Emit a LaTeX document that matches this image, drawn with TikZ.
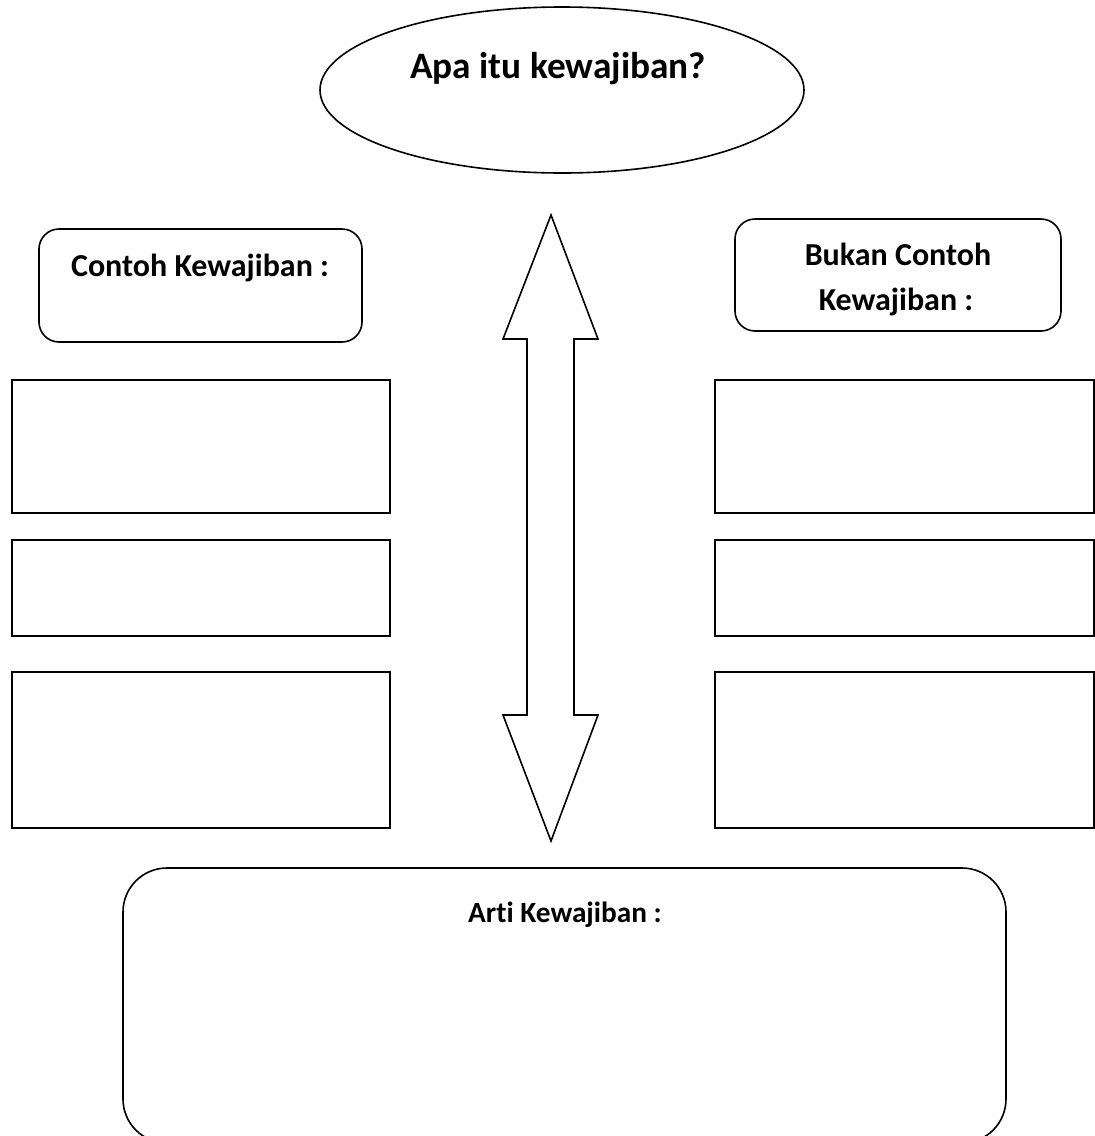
\documentclass[tikz,border=0pt]{standalone}
\usepackage{fontspec}
\setmainfont{Carlito}[Ligatures={NoCommon}]
\usetikzlibrary{shapes.geometric}
\begin{document}
\begin{tikzpicture}[x=1pt,y=-1pt,
  ln/.style={line width=1.6pt},
  plainbox/.style={ln,draw,rectangle,inner sep=0pt,minimum width=378pt},
  roundbox/.style={ln,draw,rectangle,rounded corners=20pt,inner sep=0pt},
  lbl/.style={inner sep=0pt,font=\bfseries\fontsize{32}{45}\selectfont,align=center}]
\useasboundingbox (0,0) rectangle (1095,1136);
% question ellipse
\node[ln,draw,ellipse,inner sep=0pt,minimum width=484pt,minimum height=166pt] (q) at (562,90) {};
\node[inner sep=0pt,anchor=base,font=\bfseries\fontsize{37.3}{45}\selectfont] (qt) at (558,78) {Apa itu kewajiban?};
% left side
\node[roundbox,minimum width=323pt,minimum height=113pt] (lh) at (200.5,285.5) {};
\node[lbl,anchor=base] (lht) at (200,276) {Contoh Kewajiban :};
\node[plainbox,minimum height=133pt] (l1) at (201,446.5) {};
\node[plainbox,minimum height=96pt] (l2) at (201,588) {};
\node[plainbox,minimum height=156pt] (l3) at (201,750) {};
% right side
\node[roundbox,minimum width=326pt,minimum height=112pt] (rh) at (898,275) {};
\node[lbl,anchor=base] (rht1) at (898,265) {Bukan Contoh};
\node[lbl,anchor=base] (rht2) at (896,310) {Kewajiban :};
\node[plainbox,minimum width=379pt,minimum height=133pt] (r1) at (904.5,446.5) {};
\node[plainbox,minimum width=379pt,minimum height=96pt] (r2) at (904.5,588) {};
\node[plainbox,minimum width=379pt,minimum height=156pt] (r3) at (904.5,750) {};
% double arrow
\draw[ln,line join=miter] (551,215) -- (598,339) -- (574,339) -- (574,715) -- (598,715) -- (551,841)
  -- (503,715) -- (527,715) -- (527,339) -- (503,339) -- cycle;
% bottom box
\node[ln,draw,rectangle,rounded corners=44pt,inner sep=0pt,minimum width=883pt,minimum height=275pt] (arti) at (564.5,1005.5) {};
\node[inner sep=0pt,anchor=base,font=\bfseries\fontsize{29.3}{40}\selectfont] (artit) at (565,922) {Arti Kewajiban :};
\end{tikzpicture}
\end{document}
